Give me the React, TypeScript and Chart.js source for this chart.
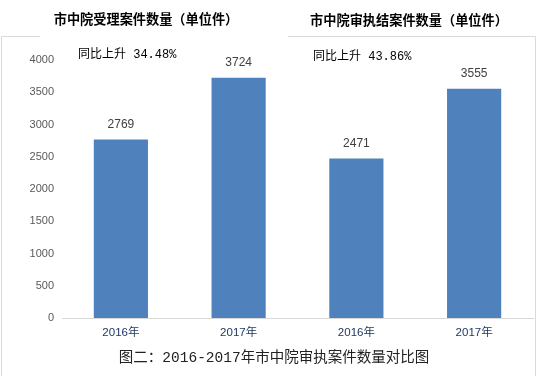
import React, { useEffect, useRef } from "react";
import { Chart, registerables } from "chart.js";

Chart.register(...registerables);

const categories = ["2016年", "2017年", "2016年", "2017年"];
const caseCounts = [2769, 3724, 2471, 3555];
const yTicks = [0, 500, 1000, 1500, 2000, 2500, 3000, 3500, 4000];
const leftTitle = "市中院受理案件数量（单位件）";
const rightTitle = "市中院审执结案件数量（单位件）";
const leftNote = "同比上升 34.48%";
const rightNote = "同比上升 43.86%";
const caption = "图二：2016-2017年市中院审执案件数量对比图";

const CJK = '"Noto Sans CJK SC"';

const overlayPlugin = {
  id: "overlay",
  afterDraw(chart: any) {
    const ctx = chart.ctx as CanvasRenderingContext2D;
    ctx.save();
    // frame lines
    ctx.strokeStyle = "#d9d9d9";
    ctx.lineWidth = 1;
    ctx.beginPath();
    ctx.moveTo(1.5, 376);
    ctx.lineTo(1.5, 36.5);
    ctx.lineTo(40, 36.5);
    ctx.moveTo(288, 36.5);
    ctx.lineTo(535.5, 36.5);
    ctx.lineTo(535.5, 376);
    ctx.stroke();

    // titles
    ctx.fillStyle = "#000";
    ctx.textBaseline = "middle";
    ctx.textAlign = "center";
    ctx.font = `bold 13.2px ${CJK}`;
    ctx.fillText(leftTitle, 146, 19);
    ctx.fillText(rightTitle, 409, 20);

    // notes
    ctx.textAlign = "left";
    ctx.font = `12px "Liberation Mono", ${CJK}`;
    ctx.fillText(leftNote, 78, 55);
    ctx.fillText(rightNote, 313, 57);

    // data labels
    const meta = chart.getDatasetMeta(0);
    ctx.textAlign = "center";
    ctx.fillStyle = "#404040";
    ctx.font = `12px "Liberation Sans", ${CJK}`;
    meta.data.forEach((bar: any, i: number) => {
      ctx.fillText(String(caseCounts[i]), bar.x, bar.y - 15);
    });

    // caption
    ctx.fillStyle = "#222";
    ctx.font = `14.5px "Liberation Mono", ${CJK}`;
    ctx.fillText(caption, 274, 358);
    ctx.restore();
  },
};

export default function App() {
  const ref = useRef<HTMLCanvasElement | null>(null);
  useEffect(() => {
    if (!ref.current) return;
    const chart = new Chart(ref.current, {
      type: "bar",
      data: {
        labels: categories,
        datasets: [
          {
            data: caseCounts,
            backgroundColor: "#4F81BD",
            barPercentage: 0.46,
            categoryPercentage: 1,
          },
        ],
      },
      options: {
        animation: false,
        responsive: false,
        maintainAspectRatio: false,
        devicePixelRatio: 1,
        layout: { padding: { left: 0, top: 60, right: 5, bottom: 28 } },
        plugins: { legend: { display: false }, tooltip: { enabled: false }, title: { display: false } },
        scales: {
          x: {
            grid: { display: false, drawTicks: false },
            border: { display: true, color: "#d9d9d9", width: 1 },
            ticks: {
              color: "#203864",
              padding: 8,
              font: { family: `"Liberation Sans", ${CJK}`, size: 11.5 },
            },
            afterFit: (s: any) => {
              s.height = 30;
            },
          },
          y: {
            min: 0,
            max: 4000,
            afterBuildTicks: (s: any) => {
              s.ticks = yTicks.map((v) => ({ value: v }));
            },
            grid: { display: false, drawTicks: false },
            border: { display: false },
            ticks: {
              color: "#595959",
              padding: 8,
              font: { family: `"Liberation Sans", ${CJK}`, size: 11 },
              callback: (v: any) => String(v),
            },
            afterFit: (s: any) => {
              s.width = 62;
            },
          },
        },
      },
      plugins: [overlayPlugin],
    });
    return () => chart.destroy();
  }, []);
  return (
    <div style={{ position: "fixed", left: 0, top: 0, width: 538, height: 376, background: "#fff" }}>
      <canvas ref={ref} width={538} height={376} style={{ display: "block", width: 538, height: 376 }} />
    </div>
  );
}
